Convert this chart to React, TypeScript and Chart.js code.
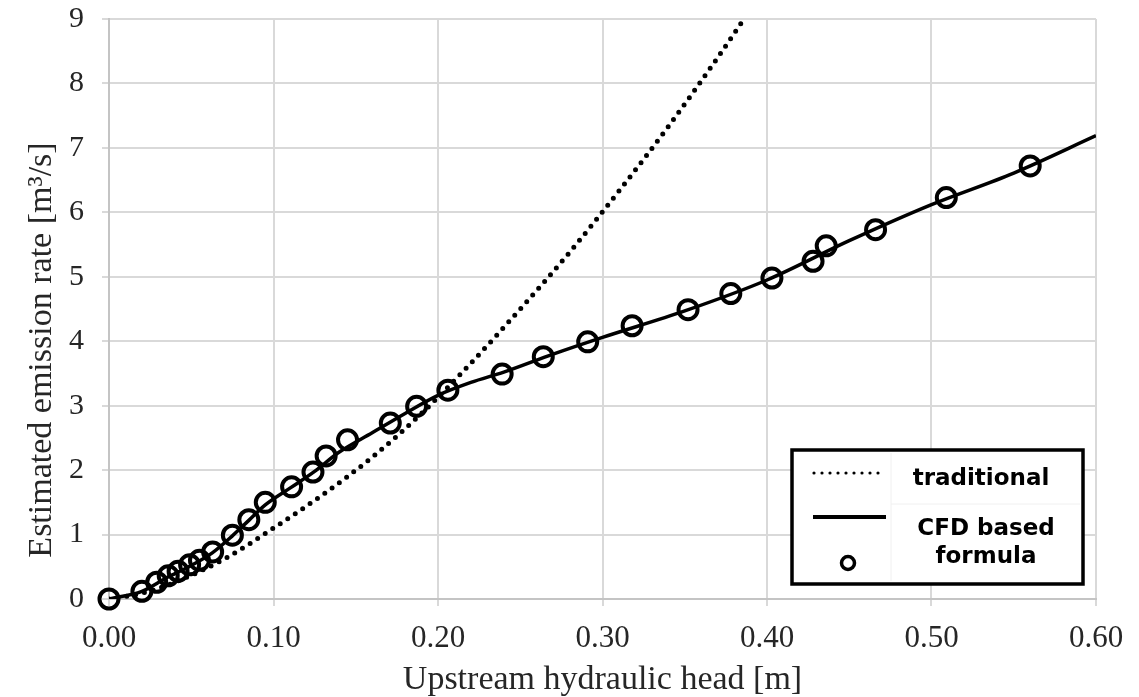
import React, { useEffect, useRef } from "react";
import { Chart, registerables } from "chart.js";

Chart.register(...registerables);

// Traditional formula curve
const headTraditional = [0, 0.02, 0.04, 0.07, 0.1, 0.13, 0.16, 0.19, 0.22, 0.25, 0.28, 0.31, 0.34, 0.37, 0.386];
const rateTraditional = [0, 0.09, 0.26, 0.62, 1.1, 1.62, 2.2, 2.88, 3.66, 4.5, 5.38, 6.33, 7.33, 8.4, 9.0];

// CFD based formula – fitted line
const headCfdLine = [0, 0.02, 0.035, 0.05, 0.063, 0.075, 0.085, 0.095, 0.11, 0.125, 0.14, 0.16, 0.18, 0.2, 0.22, 0.24, 0.27, 0.3, 0.35, 0.4, 0.45, 0.5, 0.55, 0.6];
const rateCfdLine = [0, 0.12, 0.33, 0.52, 0.72, 0.98, 1.22, 1.46, 1.72, 1.98, 2.28, 2.58, 2.88, 3.16, 3.36, 3.52, 3.8, 4.06, 4.47, 4.95, 5.56, 6.12, 6.61, 7.19];

// CFD based formula – data points (circles)
const headCfdPoints = [0, 0.02, 0.029, 0.036, 0.042, 0.049, 0.055, 0.063, 0.075, 0.085, 0.095, 0.111, 0.124, 0.132, 0.145, 0.171, 0.187, 0.206, 0.239, 0.264, 0.291, 0.318, 0.352, 0.378, 0.403, 0.428, 0.436, 0.466, 0.509, 0.56];
const rateCfdPoints = [0, 0.12, 0.26, 0.36, 0.43, 0.53, 0.6, 0.73, 0.99, 1.23, 1.5, 1.74, 1.97, 2.22, 2.47, 2.73, 2.99, 3.24, 3.49, 3.76, 3.99, 4.24, 4.49, 4.74, 4.98, 5.24, 5.48, 5.73, 6.23, 6.72];

const xTickLabels = ["0.00", "0.10", "0.20", "0.30", "0.40", "0.50", "0.60"];
const legendLabels = ["traditional", "CFD based", "formula"];
const xTitle = "Upstream hydraulic head [m]";
const yTitle = "Estimated emission rate [m³/s]";

const SERIF = "'Liberation Serif', 'Times New Roman', serif";
const TEXT = "#262626";

const zip = (xs: number[], ys: number[]) => xs.map((x, i) => ({ x, y: ys[i] }));

const yTitlePlugin = {
  id: "yTitle",
  afterDraw(chart: any) {
    const { ctx, chartArea } = chart;
    ctx.save();
    ctx.translate(42, chartArea.bottom - 249);
    ctx.rotate(-Math.PI / 2);
    ctx.fillStyle = TEXT;
    ctx.font = `34px ${SERIF}`;
    ctx.textAlign = "center";
    ctx.textBaseline = "middle";
    ctx.fillText(yTitle, 0, 0);
    ctx.restore();
  },
};

const boxLegend = {
  id: "boxLegend",
  afterDatasetsDraw(chart: any) {
    const { ctx, chartArea } = chart;
    const right = chartArea.right - 13;
    const bottom = chartArea.bottom - 15;
    const w = 291;
    const h = 134;
    const left = right - w;
    const top = bottom - h;
    ctx.save();
    ctx.fillStyle = "#ffffff";
    ctx.fillRect(left, top, w, h);
    // faint separators
    ctx.strokeStyle = "#f0f0f0";
    ctx.lineWidth = 1;
    ctx.beginPath();
    ctx.moveTo(left + 99, top + 3);
    ctx.lineTo(left + 99, bottom - 3);
    ctx.moveTo(left + 99, top + 54);
    ctx.lineTo(right - 3, top + 54);
    ctx.stroke();
    // border
    ctx.strokeStyle = "#000";
    ctx.lineWidth = 3.5;
    ctx.strokeRect(left, top, w, h);
    // dotted sample
    ctx.lineCap = "round";
    ctx.lineWidth = 3.2;
    ctx.setLineDash([0, 8]);
    ctx.beginPath();
    ctx.moveTo(left + 22, top + 23);
    ctx.lineTo(left + 93, top + 23);
    ctx.stroke();
    // solid sample
    ctx.setLineDash([]);
    ctx.lineCap = "butt";
    ctx.lineWidth = 4;
    ctx.beginPath();
    ctx.moveTo(left + 21, top + 67);
    ctx.lineTo(left + 94, top + 67);
    ctx.stroke();
    // circle sample
    ctx.lineWidth = 3.5;
    ctx.beginPath();
    ctx.arc(left + 56, top + 113, 6.5, 0, Math.PI * 2);
    ctx.stroke();
    // text
    ctx.fillStyle = "#000";
    ctx.font = "bold 23px 'DejaVu Sans', Verdana, sans-serif";
    ctx.textAlign = "center";
    ctx.textBaseline = "middle";
    ctx.fillText(legendLabels[0], left + 189, top + 29);
    ctx.fillText(legendLabels[1], left + 194, top + 79);
    ctx.fillText(legendLabels[2], left + 194, top + 107);
    ctx.restore();
  },
};

export default function App() {
  const ref = useRef<HTMLCanvasElement | null>(null);

  useEffect(() => {
    document.body.style.margin = "0";
    const canvas = ref.current;
    if (!canvas) return;
    const chart = new Chart(canvas, {
      type: "line",
      data: {
        datasets: [
          {
            label: "CFD points",
            data: zip(headCfdPoints, rateCfdPoints),
            showLine: false,
            pointStyle: "circle",
            pointRadius: 9.5,
            pointBorderWidth: 4,
            pointBorderColor: "#000",
            pointBackgroundColor: "rgba(0,0,0,0)",
            borderColor: "#000",
            clip: false as any,
          },
          {
            label: "CFD based formula",
            data: zip(headCfdLine, rateCfdLine),
            borderColor: "#000",
            borderWidth: 3.5,
            pointRadius: 0,
            cubicInterpolationMode: "monotone",
          },
          {
            label: "traditional",
            data: zip(headTraditional, rateTraditional),
            borderColor: "#000",
            borderWidth: 5,
            borderDash: [0, 9],
            borderCapStyle: "round",
            pointRadius: 0,
            cubicInterpolationMode: "monotone",
          },
        ],
      },
      options: {
        animation: false,
        responsive: false,
        maintainAspectRatio: false,
        layout: { padding: { top: 19, right: 43, bottom: 0, left: 0 } },
        plugins: {
          legend: { display: false },
          tooltip: { enabled: false },
        },
        scales: {
          x: {
            type: "linear",
            min: 0,
            max: 0.6,
            ticks: {
              stepSize: 0.1,
              autoSkip: false,
              maxRotation: 0,
              padding: 14,
              color: TEXT,
              font: { family: SERIF, size: 31 },
              callback: (v: any) => {
                const i = Math.round(Number(v) * 10);
                return xTickLabels[i] ?? Number(v).toFixed(2);
              },
            },
            grid: { color: "#d9d9d9", lineWidth: 2, tickLength: 7 },
            border: { color: "#c4c4c4", width: 2 },
            title: {
              display: true,
              text: xTitle,
              color: TEXT,
              font: { family: SERIF, size: 34, lineHeight: 1.2 },
              padding: { top: 0, bottom: -3 },
            },
            afterFit: (s: any) => {
              s.height = 98;
              s.paddingLeft = 0;
              s.paddingRight = 0;
            },
          },
          y: {
            type: "linear",
            min: 0,
            max: 9,
            ticks: {
              stepSize: 1,
              padding: 18,
              color: TEXT,
              font: { family: SERIF, size: 30 },
            },
            grid: { color: "#d9d9d9", lineWidth: 2, tickLength: 7 },
            border: { color: "#c4c4c4", width: 2 },
            title: { display: false },
            afterFit: (s: any) => {
              s.width = 109;
              s.paddingTop = 0;
              s.paddingBottom = 0;
            },
          },
        },
      },
      plugins: [boxLegend, yTitlePlugin],
    });
    return () => chart.destroy();
  }, []);

  return (
    <div style={{ width: 1139, height: 697 }}>
      <canvas ref={ref} width={1139} height={697} style={{ display: "block" }} />
    </div>
  );
}
